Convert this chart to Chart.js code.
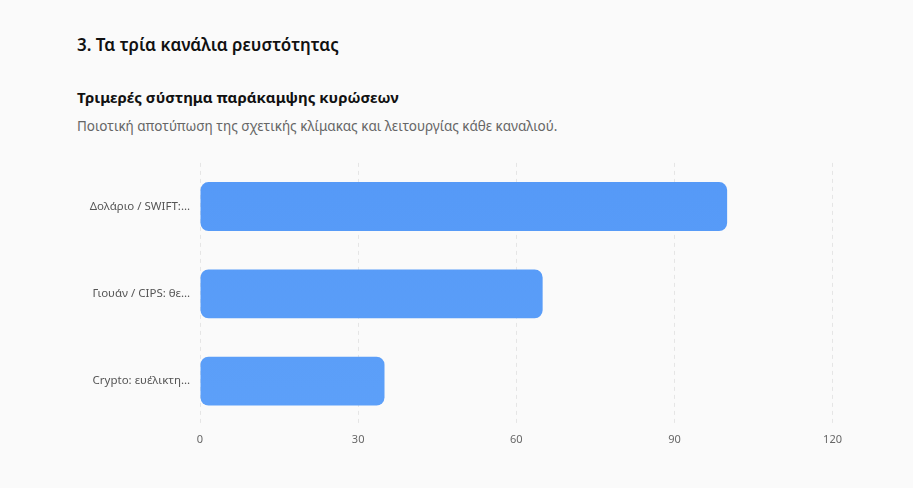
<!DOCTYPE html>
<html lang="el">
<head>
<meta charset="utf-8">
<script src="https://cdn.jsdelivr.net/npm/chart.js@4"></script>
<style>
  body { margin: 0; background: #fafafa; font-family: "Noto Sans", "Open Sans", sans-serif; }
  h2 { position: absolute; left: 77px; top: 33px; margin: 0; font-size: 17px; font-weight: 600; color: #111; }
  h3 { position: absolute; left: 77px; top: 87px; margin: 0; font-size: 15px; font-weight: 700; color: #111; }
  p { position: absolute; left: 77px; top: 117px; margin: 0; font-size: 13.5px; color: #666; }
  .wrap { position: absolute; left: 77px; top: 146px; width: 773px; height: 308px; }
</style>
</head>
<body>
<h2>3. Τα τρία κανάλια ρευστότητας</h2>
<h3>Τριμερές σύστημα παράκαμψης κυρώσεων</h3>
<p>Ποιοτική αποτύπωση της σχετικής κλίμακας και λειτουργίας κάθε καναλιού.</p>
<div class="wrap"><canvas id="grafico"></canvas></div>
<script>
// Κανάλια και σχετική κλίμακα
const kanalia = ["Δολάριο / SWIFT:…", "Γιουάν / CIPS: θε…", "Crypto: ευέλικτη…"];
const klimaka = [100, 65, 35];
const xTicks = [0, 30, 60, 90, 120];

const ctx = document.getElementById("grafico");

new Chart(ctx, {
  type: "bar",
  data: {
    labels: kanalia,
    datasets: [{
      label: "Κλίμακα",
      data: klimaka,
      backgroundColor: function (c) {
        const area = c.chart.chartArea;
        if (!area) return "#5a9cf8";
        const g = c.chart.ctx.createLinearGradient(0, area.top, 0, area.bottom);
        g.addColorStop(0, "#5599f7");
        g.addColorStop(1, "#5da0f9");
        return g;
      },
      borderRadius: 8,
      borderSkipped: false,
      barPercentage: 0.7,
      categoryPercentage: 0.8
    }]
  },
  options: {
    indexAxis: "y",
    responsive: true,
    maintainAspectRatio: false,
    animation: false,
    layout: { padding: 0 },
    plugins: { legend: { display: false }, tooltip: { enabled: false } },
    scales: {
      x: {
        min: 0,
        max: 120,
        afterBuildTicks: (s) => { s.ticks = xTicks.map(v => ({ value: v })); },
        grid: { color: "#e5e5e5", drawTicks: false },
        border: { display: false, dash: [4, 4] },
        ticks: { color: "#666", font: { family: "Noto Sans", size: 11 }, padding: 8 }
      },
      y: {
        afterFit: (s) => { s.width = 123; },
        grid: { display: false, drawTicks: false },
        border: { display: false },
        ticks: { color: "#555", font: { family: "Noto Sans", size: 11.5 }, padding: 10 }
      }
    }
  }
});
</script>
</body>
</html>
